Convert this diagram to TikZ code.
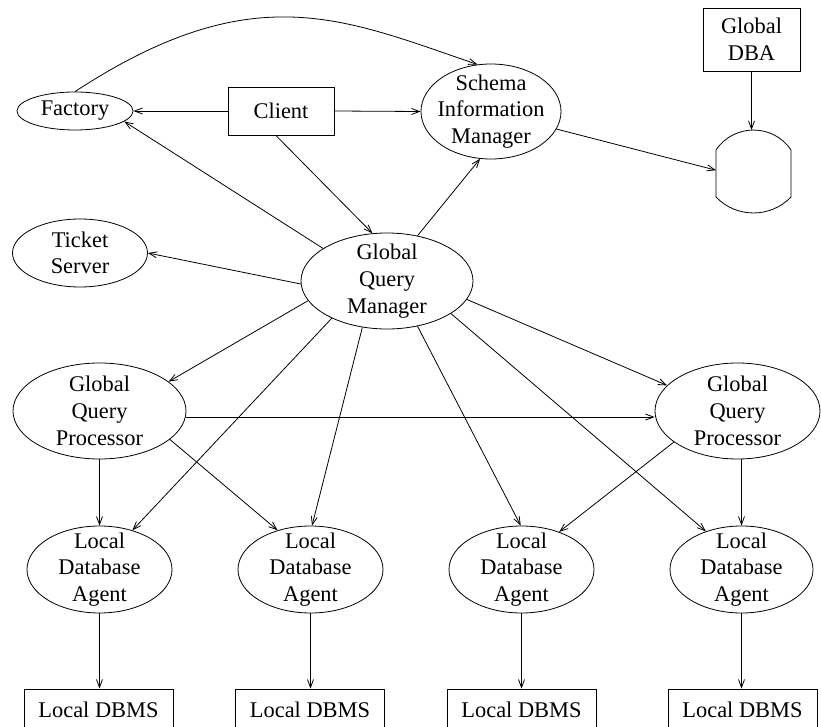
\documentclass[tikz,border=0pt]{standalone}
\usepackage{fontspec}
\setmainfont{Liberation Serif}
\usetikzlibrary{shapes.geometric,arrows.meta,calc}
\begin{document}
\begin{tikzpicture}[x=0.75pt,y=-0.75pt,
  font=\fontsize{16.8}{20}\selectfont,
  line width=0.6pt,
  >={Straight Barb[length=6pt,width=4.5pt]},
  oval/.style={ellipse,draw,inner sep=0pt},
  boxnode/.style={rectangle,draw,inner sep=0pt,align=center},
  txt/.style={label={[align=center]center:{#1}}},
  lda/.style={oval,minimum width=108.75pt,minimum height=65.25pt,txt={Local\\Database\\Agent}},
  dbms/.style={boxnode,minimum width=111.75pt,minimum height=30.75pt},
  gqp/.style={oval,minimum height=72pt,txt={Global\\Query\\Processor}},
]
\useasboundingbox (0,0) rectangle (821,727);
\fill[white] (0,0) rectangle (821,727);
\clip (0,0) rectangle (821,727);

% top row
\node[oval,minimum width=87pt,minimum height=28.5pt,txt={Factory}] (factory) at (75,111) {};
\node[boxnode,minimum width=79.5pt,minimum height=36pt] (client) at (281,111) {Client};
\node[oval,minimum width=105pt,minimum height=71.25pt,txt={Schema\\Information\\Manager}] (sim) at (491,111.5) {};
\node[boxnode,minimum width=72.75pt,minimum height=47.25pt] (dba) at (751.5,39.5) {Global\\DBA};

% database cylinder
\node[rectangle,draw=none,inner sep=0pt,outer sep=0pt,minimum width=56.25pt,minimum height=35.25pt] (db) at (753.5,173.5) {};
\coordinate (dbtop) at ($(db.north)+(0,-20)$);
\draw (db.north west) .. controls ($(db.north west)+(17.8,-26.6)$) and ($(db.north east)+(-17.8,-26.6)$) .. (db.north east)
      -- (db.south east) .. controls ($(db.south east)+(-20.4,21.3)$) and ($(db.south west)+(20.4,21.3)$) .. (db.south west)
      -- cycle;

% middle
\node[oval,minimum width=101.25pt,minimum height=51pt,txt={Ticket\\Server}] (ticket) at (80,253) {};
\node[oval,minimum width=129pt,minimum height=72pt,txt={Global\\Query\\Manager}] (gqm) at (387,281) {};
\node[gqp,minimum width=129.75pt] (gqpl) at (99.5,411) {};
\node[gqp,minimum width=123.75pt] (gqpr) at (737.5,411) {};

% local agents and DBMS
\node[lda] (lda1) at (99.5,569.5) {};
\node[lda] (lda2) at (310.5,569.5) {};
\node[lda] (lda3) at (521.5,569.5) {};
\node[lda,minimum width=107.25pt] (lda4) at (741.5,569.5) {};
\node[dbms] (dbms1) at (98.5,709.5) {Local DBMS};
\node[dbms] (dbms2) at (310,709.5) {Local DBMS};
\node[dbms] (dbms3) at (521.5,709.5) {Local DBMS};
\node[dbms] (dbms4) at (742.5,709.5) {Local DBMS};

% connectors
\draw[->] (factory.north) .. controls (253.6,-25.2) and (343.4,18.9) .. (sim.106);
\draw[->] (client.west) -- (factory.east);
\draw[->] (client.east) -- (sim.west);
\draw[->] (client.258) -- (gqm.107);
\draw[->] (gqm.153) -- (factory.-12);
\draw[->] (gqm.56) -- (sim.257);
\draw[->] (sim.-15) -- (db.175);
\draw[->] (dba.south) -- (dba.south |- dbtop);
\draw[->] (gqm.182) -- (ticket.0);
\draw[->] (gqm.194) -- (gqpl.23);
\draw[->] (gqm.-13) -- (gqpr.160);
\draw[->] (gqm.214) -- (lda1.50);
\draw[->] (gqm.242) -- (lda2.88);
\draw[->] (gqm.-56) -- (lda3.91);
\draw[->] (gqm.-27) -- (lda4.133);
\draw[->] (gqpl.-4) -- (gqpl.-4 -| gqpr.west);
\draw[->] (gqpl.south) -- (lda1.north);
\draw[->] (gqpl.-22) -- (lda2.130);
\draw[->] (gqpr.206) -- (lda3.45);
\draw[->] (lda4.north |- gqpr.south) -- (lda4.north);
\draw[->] (lda1.south) -- (lda1.south |- dbms1.north);
\draw[->] (lda2.south) -- (lda2.south |- dbms2.north);
\draw[->] (lda3.south) -- (lda3.south |- dbms3.north);
\draw[->] (lda4.south) -- (lda4.south |- dbms4.north);
\end{tikzpicture}
\end{document}
